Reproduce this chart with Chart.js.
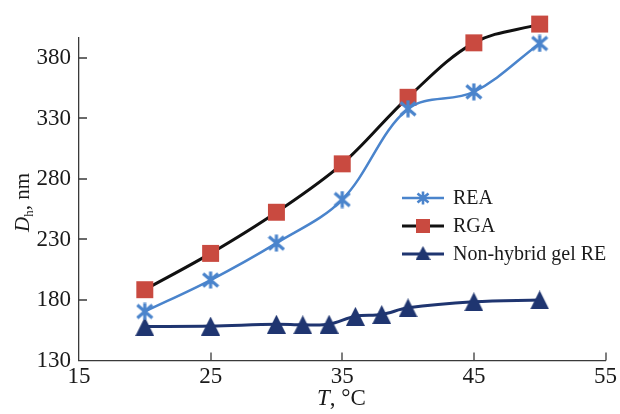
<!DOCTYPE html>
<html>
<head>
<meta charset="utf-8">
<script src="https://cdn.jsdelivr.net/npm/chart.js"></script>
<style>
  html, body { margin: 0; padding: 0; background: #fff; }
  #wrap { width: 620px; height: 414px; }
</style>
</head>
<body>
<div id="wrap"><canvas id="chart" width="620" height="414"></canvas></div>
<script>
// values
const tempREA = [20, 25, 30, 35, 40, 45, 50];
const sizeREA = [170.5, 196.5, 227, 263, 338, 352, 392];
const tempRGA = [20, 25, 30, 35, 40, 45, 50];
const sizeRGA = [188.5, 218.5, 252.5, 292.5, 347.5, 392.5, 408];
const tempGel = [20, 25, 30, 32, 34, 36, 38, 40, 45, 50];
const sizeGel = [158, 158.5, 160, 159.5, 160, 166.5, 168, 173.5, 178.5, 180];
const seriesNames = ['REA', 'RGA', 'Non-hybrid gel RE'];
const xTicks = [15, 25, 35, 45, 55];
const yTicks = [130, 180, 230, 280, 330, 380];

const BLUE = '#4a84cc';
const RED = '#c94a40';
const NAVY = '#1f3570';
const SERIF = '"Liberation Serif", "Times New Roman", serif';

function makeMarker(w, h, draw) {
  const c = document.createElement('canvas');
  c.width = w; c.height = h;
  draw(c.getContext('2d'), w, h);
  return c;
}
function asterisk(s) {
  return makeMarker(s, s, (g, w, h) => {
    g.strokeStyle = BLUE;
    g.lineWidth = s > 15 ? 3.2 : 2.6;
    g.beginPath();
    g.moveTo(w / 2, 0.5); g.lineTo(w / 2, h - 0.5);
    g.moveTo(1.5, 2.5); g.lineTo(w - 1.5, h - 2.5);
    g.moveTo(w - 1.5, 2.5); g.lineTo(1.5, h - 2.5);
    g.stroke();
  });
}
function triangle(w, h) {
  return makeMarker(w, h, (g) => {
    g.fillStyle = NAVY;
    g.beginPath();
    g.moveTo(w / 2, 0); g.lineTo(w, h); g.lineTo(0, h);
    g.closePath();
    g.fill();
  });
}
const starBig = asterisk(18), starSmall = asterisk(14);
const triBig = triangle(19, 19), triSmall = triangle(15, 14);

const pts = (xs, ys) => xs.map((x, i) => ({ x: x, y: ys[i] }));

// legend drawn inside the plot, like the original
const insideLegend = {
  id: 'insideLegend',
  afterDraw(chart) {
    const ctx = chart.ctx;
    const rows = [
      { y: 198, color: BLUE, lw: 2.5, mark: (x, y) => ctx.drawImage(starSmall, x - 7, y - 7) },
      { y: 226, color: '#111', lw: 3, mark: (x, y) => { ctx.fillStyle = RED; ctx.fillRect(x - 7, y - 7, 14, 14); } },
      { y: 254, color: NAVY, lw: 3, mark: (x, y) => ctx.drawImage(triSmall, x - 7.5, y - 8) }
    ];
    ctx.save();
    rows.forEach((r, i) => {
      ctx.strokeStyle = r.color;
      ctx.lineWidth = r.lw;
      ctx.beginPath();
      ctx.moveTo(402, r.y); ctx.lineTo(444, r.y);
      ctx.stroke();
      r.mark(423, r.y);
      ctx.fillStyle = '#1a1a1a';
      ctx.font = '20px ' + SERIF;
      ctx.textBaseline = 'middle';
      ctx.textAlign = 'left';
      ctx.fillText(seriesNames[i], 453, r.y + 1);
    });
    ctx.restore();
  }
};

// inward tick marks and the mixed-style axis titles
const axisDecor = {
  id: 'axisDecor',
  afterDraw(chart) {
    const ctx = chart.ctx;
    const xs = chart.scales.x, ys = chart.scales.y;
    const a = chart.chartArea;
    ctx.save();
    ctx.strokeStyle = '#3a3a3a';
    ctx.lineWidth = 1.3;
    ctx.beginPath();
    xTicks.slice(1).forEach(v => {
      const px = Math.round(xs.getPixelForValue(v));
      ctx.moveTo(px, a.bottom); ctx.lineTo(px, a.bottom - 8);
    });
    yTicks.slice(1).forEach(v => {
      const py = Math.round(ys.getPixelForValue(v));
      ctx.moveTo(a.left, py); ctx.lineTo(a.left + 8, py);
    });
    ctx.stroke();

    ctx.fillStyle = '#1a1a1a';
    ctx.textBaseline = 'alphabetic';
    ctx.textAlign = 'left';
    // x title: T, °C
    let x = 317;
    ctx.font = 'italic 23px ' + SERIF;
    ctx.fillText('T', x, 405);
    x += ctx.measureText('T').width;
    ctx.font = '23px ' + SERIF;
    ctx.fillText(', °C', x, 405);

    // y title: D_h, nm
    ctx.translate(29, 232);
    ctx.rotate(-Math.PI / 2);
    let t = 0;
    ctx.font = 'italic 21px ' + SERIF;
    ctx.fillText('D', t, 0);
    t += ctx.measureText('D').width;
    ctx.font = '13px ' + SERIF;
    ctx.fillText('h', t, 4);
    t += ctx.measureText('h').width;
    ctx.font = '21px ' + SERIF;
    ctx.fillText(', nm', t, 0);
    ctx.restore();
  }
};

new Chart(document.getElementById('chart'), {
  type: 'line',
  data: {
    datasets: [
      {
        label: seriesNames[0],
        data: pts(tempREA, sizeREA),
        borderColor: BLUE,
        borderWidth: 2.5,
        pointStyle: starBig,
        tension: 0.35,
        clip: false
      },
      {
        label: seriesNames[1],
        data: pts(tempRGA, sizeRGA),
        borderColor: '#111',
        borderWidth: 3,
        pointStyle: 'rect',
        pointRadius: 12,
        pointHoverRadius: 18, // keeps the top square from being culled
        pointBackgroundColor: RED,
        pointBorderColor: RED,
        pointBorderWidth: 0,
        tension: 0.35,
        clip: false
      },
      {
        label: seriesNames[2],
        data: pts(tempGel, sizeGel),
        borderColor: NAVY,
        borderWidth: 3,
        pointStyle: triBig,
        tension: 0.35,
        clip: false
      }
    ]
  },
  options: {
    responsive: false,
    animation: false,
    layout: { autoPadding: false, padding: { top: 38, right: 14, left: 0, bottom: 0 } },
    plugins: {
      legend: { display: false },
      tooltip: { enabled: false }
    },
    scales: {
      x: {
        type: 'linear',
        min: 15,
        max: 55,
        grid: { display: false, drawTicks: false },
        border: { display: true, color: '#3a3a3a', width: 1.3 },
        afterBuildTicks: (axis) => { axis.ticks = xTicks.map(v => ({ value: v })); },
        afterFit: (axis) => { axis.height = 53.5; },
        ticks: {
          padding: 3,
          color: '#1a1a1a',
          font: { family: SERIF, size: 23 }
        }
      },
      y: {
        type: 'linear',
        min: 130,
        max: 396.5,
        grid: { display: false, drawTicks: false },
        border: { display: true, color: '#3a3a3a', width: 1.3 },
        afterBuildTicks: (axis) => { axis.ticks = yTicks.map(v => ({ value: v })); },
        afterFit: (axis) => { axis.width = 79; },
        ticks: {
          padding: 8,
          color: '#1a1a1a',
          font: { family: SERIF, size: 23 }
        }
      }
    }
  },
  plugins: [insideLegend, axisDecor]
});
</script>
</body>
</html>
